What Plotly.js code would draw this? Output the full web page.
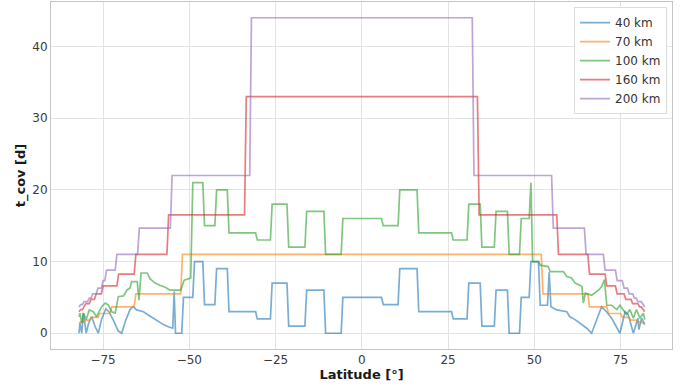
<!DOCTYPE html>
<html>
<head>
<meta charset="utf-8">
<script src="https://cdn.plot.ly/plotly-3.0.1.min.js"></script>
<style>html,body{margin:0;padding:0;background:#fff;}#chart{width:680px;height:387px;}</style>
</head>
<body>
<div id="chart"></div>
<script>
// Series names
const seriesNames = ['40 km', '70 km', '100 km', '160 km', '200 km'];

// 40 km
const lat40 = [-82, -81.7, -81.2, -80.7, -79.9, -79.2, -78.3, -77.3, -76.4, -75.4,
  -74.2, -73.3, -72, -70.6, -69.6, -68.6, -67.2, -66.2, -65.3, -63.3,
  -61.9, -60.4, -59, -57.5, -56.1, -54.8, -54.4, -54, -52.2, -51.7,
  -49, -48.5, -46.1, -45.6, -42.6, -42.1, -39, -38.5, -30.8, -30.3,
  -26.5, -26, -21.7, -21.2, -16.5, -16, -11, -10.5, -6, -5.5,
  5.7, 6.2, 10.5, 11, 16, 16.5, 26, 26.5, 30.5, 31,
  34.3, 34.8, 38.4, 38.9, 42.2, 42.7, 45.7, 46.2, 48.5, 49,
  51.2, 51.7, 53.8, 54.3, 54.8, 56.5, 59.4, 60.3, 61.8, 63.7,
  65.2, 66.6, 68, 69.5, 70.9, 72.4, 74.8, 76.3, 77.2, 78.7,
  80, 80.3, 81.1, 82];
const val40 = [0, 1.4, 0, 2.8, 0, 1.4, 2.3, 0.9, 0, 2.0,
  3.4, 3.0, 1.8, 0.3, 0, 1.6, 3.3, 3.7, 3.25, 3.0,
  2.55, 2.1, 1.6, 1.2, 0.9, 0.7, 5.8, 0, 0, 5,
  5, 10, 10, 4, 4, 9, 9, 3, 3, 2,
  2, 7, 7, 1, 1, 6, 6, 0, 0, 5,
  5, 4, 4, 9, 9, 3, 3, 2, 2, 7,
  7, 1, 1, 6, 6, 0, 0, 5, 5, 10,
  10, 3.9, 3.9, 8.5, 3.7, 3.25, 3.0, 2.3, 1.9, 1.2,
  0.7, 0, 1.9, 3.7, 3.0, 2.1, 0, 3.0, 2.6, 0,
  2.1, 0.5, 2.1, 1.2];

// 70 km
const lat70 = [-82, -81.5, -80.5, -80, -79, -78.5, -76.5, -76, -73, -72.5,
  -66, -65.5, -52.5, -52, 52, 52.5, 65.5, 66, 71, 71.5,
  75, 75.5, 77.5, 78, 79.5, 80, 81, 81.5, 82];
const val70 = [1.375, 1.57, 1.57, 1.83, 1.83, 2.2, 2.2, 2.75, 2.75, 3.67,
  3.67, 5.5, 5.5, 11, 11, 5.5, 5.5, 3.67, 3.67, 2.75,
  2.75, 2.2, 2.2, 1.83, 1.83, 1.57, 1.57, 1.375, 1.375];

// 100 km
const lat100 = [-82, -81.7, -81.2, -80.7, -79.9, -79, -77.8, -76.9, -75.4, -74.4,
  -73.5, -72.5, -71.5, -70.6, -69.1, -68.1, -67.2, -66.7, -65.1, -64.6,
  -64, -62.2, -61.4, -59.9, -58.5, -57, -55.6, -52.5, -51.5, -49.6,
  -49, -46.1, -45.6, -42.6, -42.1, -39, -38.5, -30.8, -30.3, -26.5,
  -26, -21.7, -21.2, -16.5, -16, -11, -10.5, -6, -5.5, 5.7,
  6.2, 10.5, 11, 16, 16.5, 26, 26.5, 30.5, 31, 34.3,
  34.8, 38.4, 38.9, 42.2, 42.7, 45.7, 46.2, 48.5, 49, 49.5,
  51.2, 51.7, 54, 54.6, 58.4, 59.4, 60.8, 61.8, 63.2, 63.8,
  64.2, 64.8, 66.6, 68.6, 69.5, 70.3, 71, 72.4, 73.9, 74.8,
  76.7, 77.7, 78.7, 79.6, 80.6, 81.6, 82];
const val100 = [2.3, 2.8, 1.4, 2.8, 1.9, 3.25, 3.0, 2.3, 3.7, 4.2,
  3.95, 3.0, 2.8, 5.1, 5.2, 6.0, 6.3, 7.2, 7.2, 4.6,
  8.4, 8.4, 7.6, 7.0, 6.7, 6.4, 6.0, 6.0, 7.4, 7.7,
  21, 21, 15, 15, 20, 20, 14, 14, 13, 13,
  18, 18, 12, 12, 17, 17, 11, 11, 16, 16,
  15, 15, 20, 20, 14, 14, 13, 13, 18, 18,
  12, 12, 17, 17, 11, 11, 16, 16, 21, 10,
  10, 9.5, 9.3, 8.6, 8.6, 7.9, 7.7, 7.0, 6.7, 6.5,
  4.2, 5.6, 5.3, 6.0, 6.5, 7.5, 3.9, 3.9, 3.3, 3.9,
  2.6, 3.3, 2.1, 3.3, 2.1, 2.8, 1.9];

// 160 km
const lat160 = [-82, -81.5, -81, -80.5, -80, -79, -78.5, -77.5, -77, -75.5,
  -75, -71, -70.5, -66, -65.5, -56.5, -56, -34, -33.5, 33.5,
  34, 56.5, 57, 65.5, 66, 70.5, 71, 73.5, 74, 76,
  76.5, 78, 78.5, 80, 80.5, 81, 81.5, 82];
const val160 = [3.0, 3.3, 3.3, 3.67, 4.125, 4.125, 4.71, 4.71, 5.5, 5.5,
  6.6, 6.6, 8.25, 8.25, 11, 11, 16.5, 16.5, 33, 33,
  16.5, 16.5, 11, 11, 8.25, 8.25, 6.6, 6.6, 5.5, 5.5,
  4.71, 4.71, 4.125, 4.125, 3.67, 3.67, 3.3, 3.0];

// 200 km
const lat200 = [-82, -81.5, -81, -80.5, -79.5, -79, -78.5, -78, -77, -76.5,
  -75.5, -75, -74.5, -74, -71.5, -71, -65, -64.5, -55.5, -55,
  -32.5, -32, 32, 32.5, 55, 55.5, 64.5, 65, 70, 70.5,
  73.5, 74, 75.5, 76, 77, 77.5, 78.5, 79, 79.5, 80,
  81, 81.5, 82];
const val200 = [3.67, 4.0, 4.0, 4.4, 4.4, 4.89, 4.89, 5.5, 5.5, 6.29,
  6.29, 7.33, 7.33, 8.8, 8.8, 11, 11, 14.67, 14.67, 22,
  22, 44, 44, 22, 22, 14.67, 14.67, 11, 11, 8.8,
  8.8, 7.33, 7.33, 6.29, 6.29, 5.5, 5.5, 4.89, 4.89, 4.4,
  4.4, 4.0, 3.67];

const xTicks = [-75, -50, -25, 0, 25, 50, 75];
const yTicks = [0, 10, 20, 30, 40];

const colors = ['rgba(31,119,180,0.6)', 'rgba(255,127,14,0.6)', 'rgba(44,160,44,0.6)',
                'rgba(214,39,40,0.6)', 'rgba(148,103,189,0.6)'];
const xs = [lat40, lat70, lat100, lat160, lat200];
const ys = [val40, val70, val100, val160, val200];

const traces = seriesNames.map((n, i) => ({
  type: 'scatter', mode: 'lines', name: n,
  x: xs[i], y: ys[i],
  line: {color: colors[i], width: 1.7}
}));

const axisCommon = {
  showgrid: true, gridcolor: '#e3e3e3', gridwidth: 1,
  zeroline: false, showline: true, mirror: true,
  linecolor: '#c4c4c4', linewidth: 1, ticks: '',
  tickfont: {size: 12, color: '#3a3a3a'}
};

const layout = {
  width: 680, height: 387,
  margin: {l: 51, r: 8, t: 2, b: 38},
  paper_bgcolor: '#ffffff', plot_bgcolor: '#ffffff',
  font: {family: 'DejaVu Sans', size: 12, color: '#333'},
  showlegend: true,
  xaxis: Object.assign({}, axisCommon, {
    range: [-90.1, 89.9], tickvals: xTicks,
    title: {text: '<b>Latitude [°]</b>', font: {size: 13, color: '#1a1a1a'}, standoff: 3}
  }),
  yaxis: Object.assign({}, axisCommon, {
    range: [-2.2, 46.2], tickvals: yTicks,
    title: {text: '<b>t_cov [d]</b>', font: {size: 13, color: '#1a1a1a'}, standoff: 3}
  }),
  legend: {
    x: 0.992, xanchor: 'right', y: 0.985, yanchor: 'top',
    bgcolor: '#ffffff', bordercolor: '#dcdcdc', borderwidth: 1,
    font: {size: 12, color: '#333'}
  }
};

Plotly.newPlot('chart', traces, layout, {displayModeBar: false, staticPlot: true});
</script>
</body>
</html>
